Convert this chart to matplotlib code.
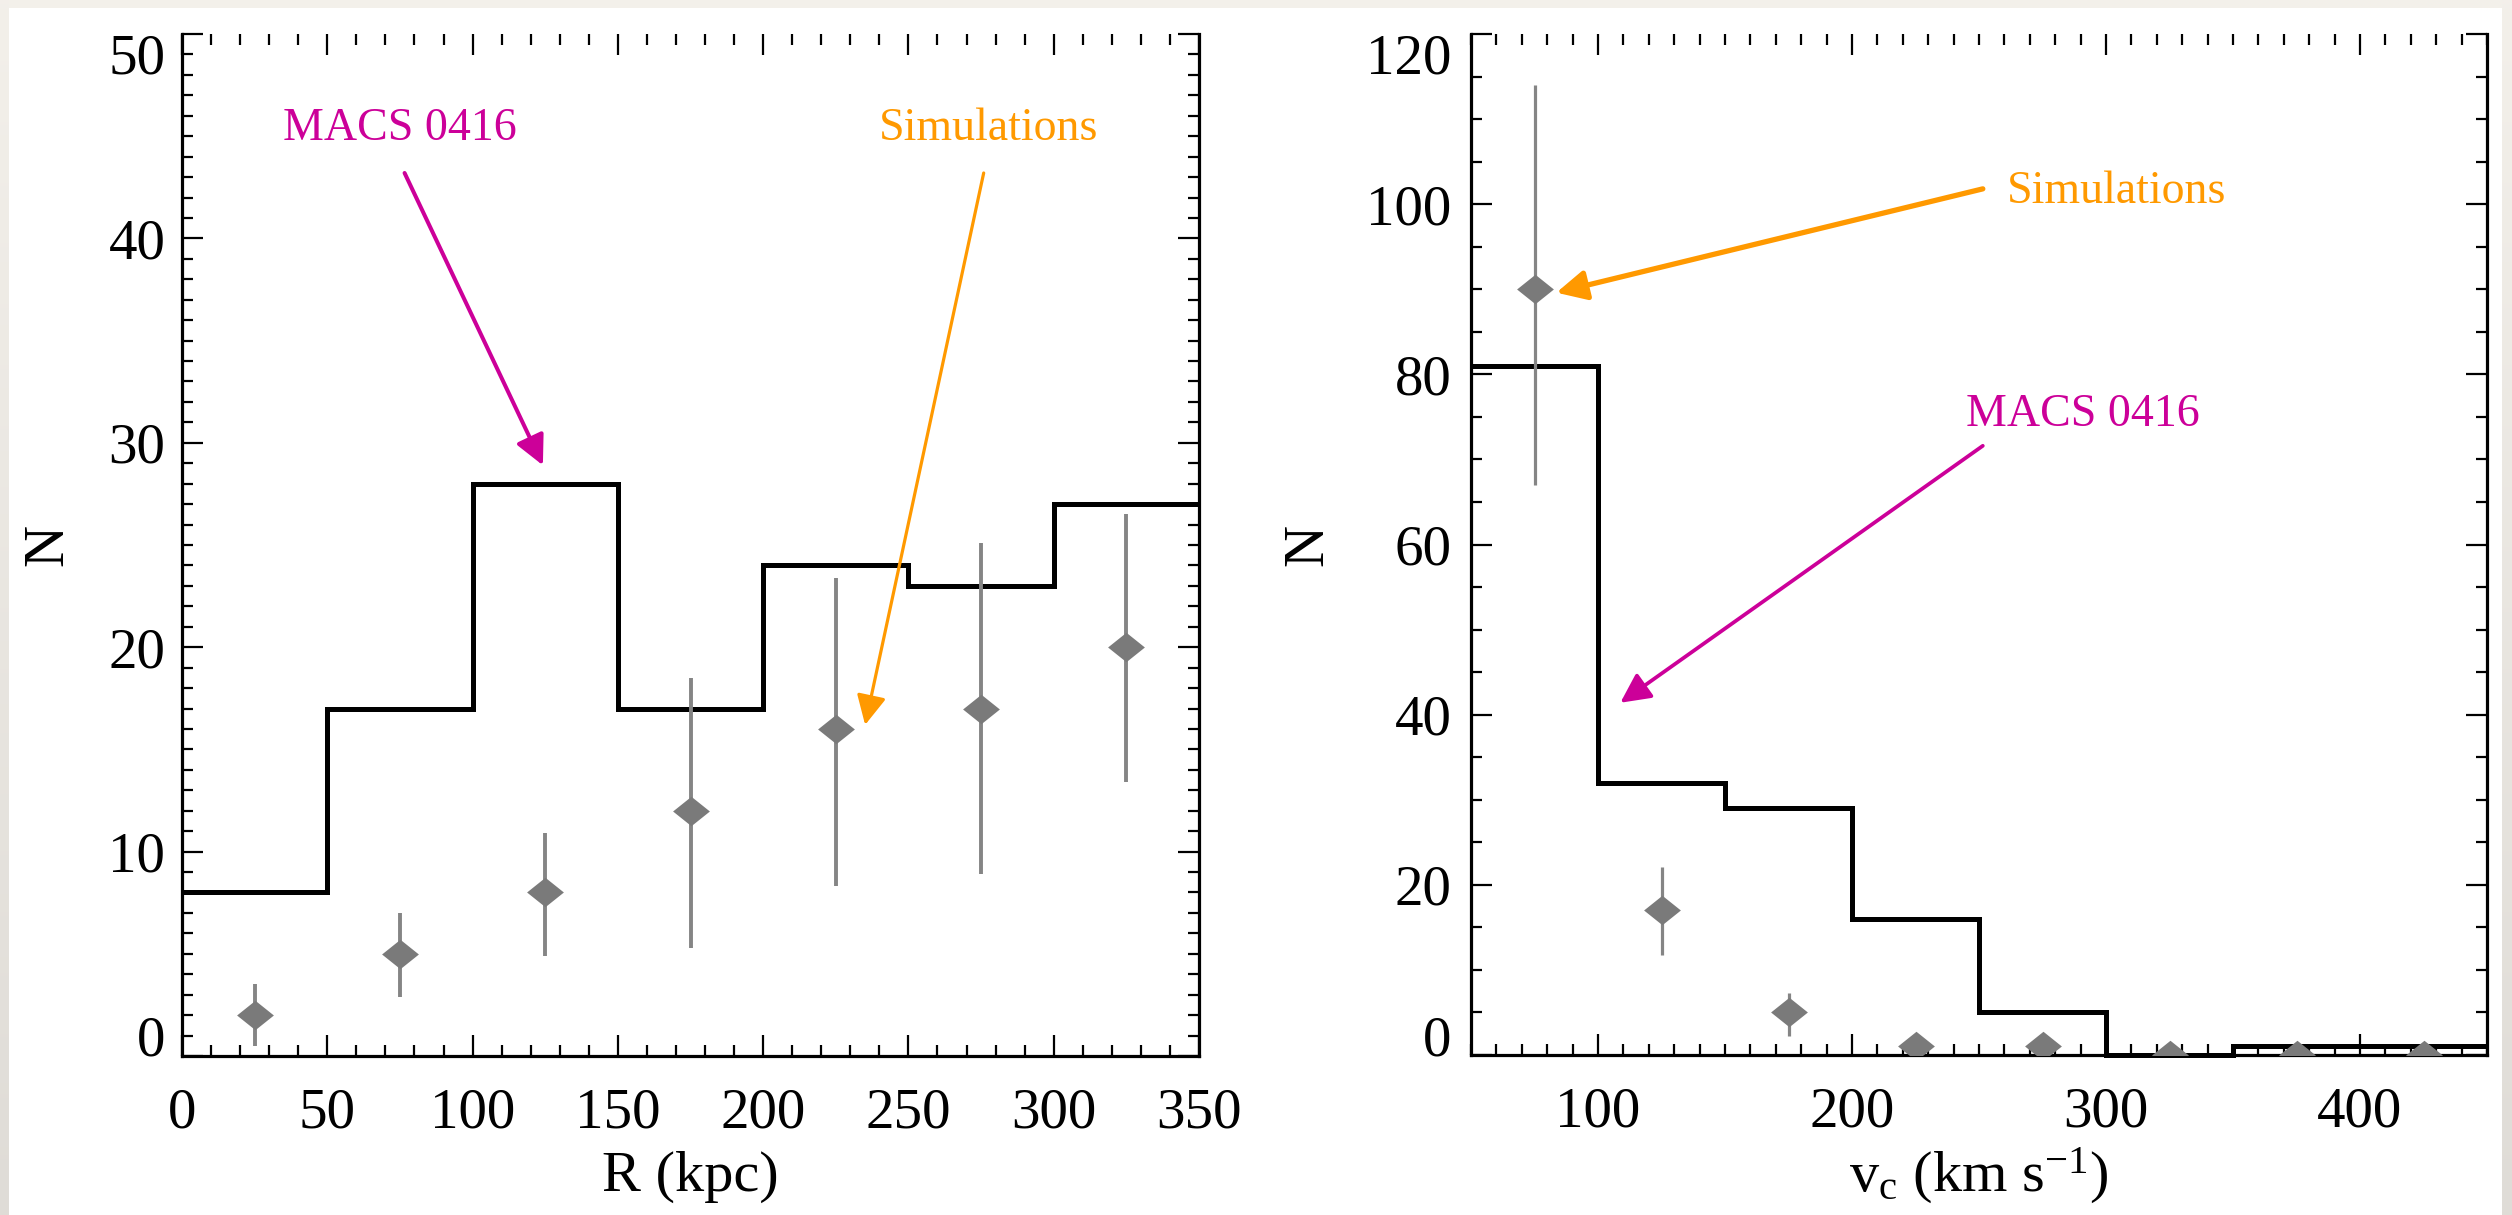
import numpy as np
import matplotlib
matplotlib.use("Agg")
import matplotlib.pyplot as plt
from matplotlib.patches import Rectangle
from matplotlib.ticker import MultipleLocator, FixedLocator

plt.rcParams['font.family'] = ['Liberation Serif', 'DejaVu Serif']
plt.rcParams['mathtext.fontset'] = 'custom'
plt.rcParams['mathtext.rm'] = 'Liberation Serif'
plt.rcParams['mathtext.it'] = 'Liberation Serif:italic'
plt.rcParams['mathtext.default'] = 'regular'

# ---- radial distribution of cluster members ----
r_edges = [0, 50, 100, 150, 200, 250, 300, 350]
r_macs = [8, 17, 28, 17, 24, 23, 27]
r_sim_x = [25, 75, 125, 175, 225, 275, 325]
r_sim = [2, 5, 8, 12, 16, 17, 20]
r_sim_lo = [0.5, 2.9, 4.9, 5.3, 8.3, 8.9, 13.4]
r_sim_hi = [3.5, 7.0, 10.9, 18.5, 23.4, 25.1, 26.5]

# ---- circular velocity distribution ----
v_edges = [50, 100, 150, 200, 250, 300, 350, 400, 450]
v_macs = [81, 32, 29, 16, 5, 0, 1, 1]
v_sim_x = [75, 125, 175, 225, 275, 325, 375, 425]
v_sim = [90, 17, 5, 1, 1, 0, 0, 0]
v_sim_lo = [67, 11.8, 2.2, 1, 1, 0, 0, 0]
v_sim_hi = [114, 22.1, 7.3, 1, 1, 0, 0, 0]

W, H = 2512, 1215
fig = plt.figure(figsize=(W / 100, H / 100), dpi=100)
fig.patch.set_facecolor('#f3f0ea')

# page background: white sheet with a soft grey edge strip
bg = fig.add_axes([0, 0, 1, 1], zorder=-10)
bg.set_xlim(0, W)
bg.set_ylim(H, 0)
bg.axis('off')
grad = np.linspace(0, 1, 200)[:, None, None]
top_c = np.array([0.953, 0.941, 0.918])
bot_c = np.array([0.875, 0.863, 0.843])
strip = top_c * (1 - grad) + bot_c * grad
bg.imshow(strip, extent=(2502, W, H, 0), aspect='auto', interpolation='bilinear')
bg.imshow(strip, extent=(0, 9, H, 0), aspect='auto', interpolation='bilinear')
bg.add_patch(Rectangle((9, 8), 2502 - 9, H - 8, facecolor='white', edgecolor='none'))

MAG = '#cc0099'
ORA = '#ff9900'
GRAY_M = '#7a7a7a'
GRAY_E = '#858585'
TICK_FS = 41
LAB_FS = 42
ANN_FS = 33

diamond = [(-1.25, 0), (0, 1), (1.25, 0), (0, -1), (-1.25, 0)]


def px_axes(x0, x1, y_top, y_bot):
    return [x0 / W, 1 - y_bot / H, (x1 - x0) / W, (y_bot - y_top) / H]


def style_axes(ax, xmaj, xmin_step, ymaj, ymin_step, xpad, ypad):
    ax.spines['top'].set_visible(False)
    for s in ('left', 'right', 'bottom'):
        ax.spines[s].set_linewidth(2.3)
    ax.xaxis.set_major_locator(FixedLocator(xmaj))
    ax.xaxis.set_minor_locator(MultipleLocator(xmin_step))
    ax.yaxis.set_major_locator(FixedLocator(ymaj))
    ax.yaxis.set_minor_locator(MultipleLocator(ymin_step))
    ax.tick_params(which='both', direction='in', top=True, right=True,
                   width=1.6, color='black')
    ax.tick_params(which='major', length=15, labelsize=TICK_FS)
    ax.tick_params(which='minor', length=8)
    ax.tick_params(axis='x', which='major', pad=xpad)
    ax.tick_params(axis='y', which='major', pad=ypad)
    ax.set_xticklabels([str(v) for v in xmaj])
    ax.set_yticklabels([str(v) for v in ymaj])
    ylabels = ax.get_yticklabels()
    ylabels[0].set_va('baseline')
    ylabels[-1].set_va('top')


def sims(ax, x, y, lo, hi, elw):
    y = np.asarray(y, float)
    yerr = [y - np.asarray(lo, float), np.asarray(hi, float) - y]
    ax.errorbar(x, y, yerr=yerr, fmt='none', ecolor=GRAY_E, elinewidth=elw,
                capsize=0, zorder=4)
    ax.plot(x, y, linestyle='none', marker=diamond, markersize=26.5,
            color=GRAY_M, markeredgewidth=0, zorder=5)


def arrow(ax, start, tip, color, lw):
    ax.annotate('', xy=tip, xytext=start,
                arrowprops=dict(arrowstyle='-|>', color=color, lw=lw,
                                mutation_scale=45, shrinkA=0, shrinkB=0),
                zorder=6)


# ---------------- left panel: R ----------------
ax1 = fig.add_axes(px_axes(182, 1199, 34, 1056))
ax1.set_xlim(0, 350)
ax1.set_ylim(0, 50)
ax1.stairs(r_macs, r_edges, baseline=None, color='black', linewidth=3.6,
           zorder=3, clip_on=False)
sims(ax1, r_sim_x, r_sim, r_sim_lo, r_sim_hi, 2.8)
style_axes(ax1, list(range(0, 351, 50)), 10, list(range(0, 51, 10)), 1,
           23, 12)
ax1.set_xlabel('R (kpc)', fontsize=LAB_FS, va='center')
ax1.xaxis.set_label_coords(0.5, -0.118)
ax1.set_ylabel('N', fontsize=LAB_FS, va='center')
ax1.yaxis.set_label_coords(-0.131, 0.5)

ax1.text(75, 44.8, 'MACS 0416', color=MAG, fontsize=ANN_FS,
         ha='center', va='baseline')
arrow(ax1, (76.6, 43.2), (124.2, 28.9), MAG, 2.9)
ax1.text(277.6, 44.8, 'Simulations', color=ORA, fontsize=ANN_FS,
         ha='center', va='baseline')
arrow(ax1, (275.9, 43.2), (235.1, 16.2), ORA, 2.3)

# ---------------- right panel: v_c ----------------
ax2 = fig.add_axes(px_axes(1471, 2487, 34, 1055))
ax2.set_xlim(50, 450)
ax2.set_ylim(0, 120)
ax2.stairs(v_macs, v_edges, baseline=None, color='black', linewidth=3.6,
           zorder=3, clip_on=False)
sims(ax2, v_sim_x, v_sim, v_sim_lo, v_sim_hi, 2.3)
style_axes(ax2, [100, 200, 300, 400], 10, list(range(0, 121, 20)), 5,
           23, 14)
ax2.set_xlabel(r'v$_{c}$ (km s$^{-1}$)', fontsize=LAB_FS, va='center')
ax2.xaxis.set_label_coords(0.5, -0.118)
ax2.set_ylabel('N', fontsize=LAB_FS, va='center')
ax2.yaxis.set_label_coords(-0.160, 0.5)

ax2.text(304, 100.1, 'Simulations', color=ORA, fontsize=ANN_FS,
         ha='center', va='baseline')
arrow(ax2, (251.5, 101.8), (83.6, 89.6), ORA, 3.8)
ax2.text(291, 73.9, 'MACS 0416', color=MAG, fontsize=ANN_FS,
         ha='center', va='baseline')
arrow(ax2, (251.5, 71.6), (108.8, 41.4), MAG, 2.7)

fig.savefig('out.png', dpi=100, facecolor=fig.get_facecolor())
